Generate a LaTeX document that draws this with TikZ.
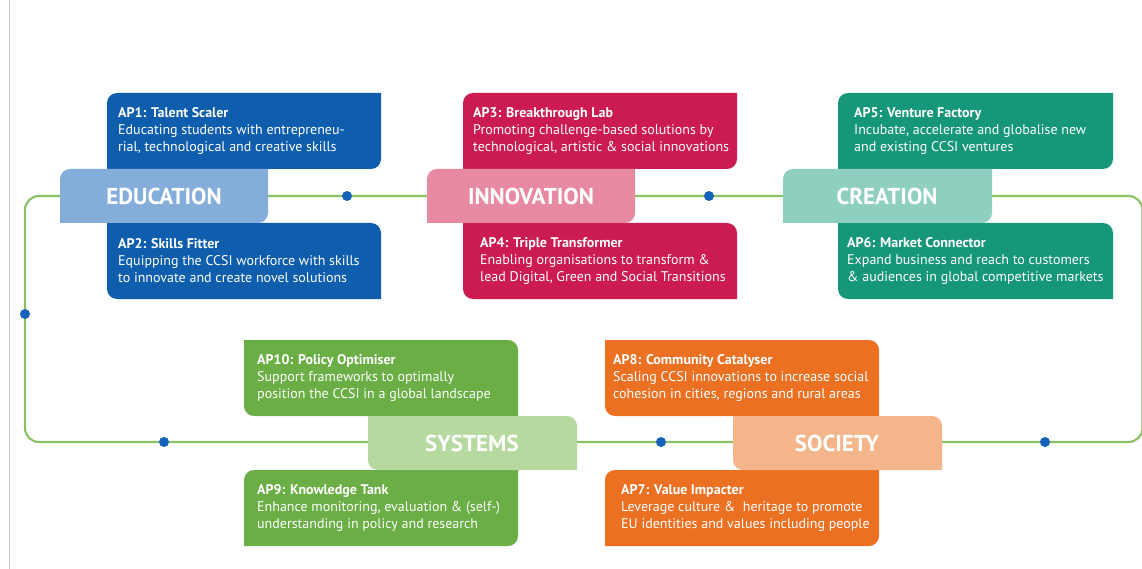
\documentclass[tikz,border=0pt]{standalone}
\usepackage{fontspec}
\setmainfont{PT Sans}
\definecolor{eduD}{HTML}{0F5EAD}
\definecolor{eduL}{HTML}{84AED9}
\definecolor{innD}{HTML}{CB1B50}
\definecolor{innL}{HTML}{E78AA1}
\definecolor{creD}{HTML}{17977A}
\definecolor{creL}{HTML}{8FCFBF}
\definecolor{sysD}{HTML}{6BAE46}
\definecolor{sysL}{HTML}{B6D99F}
\definecolor{socD}{HTML}{EC7022}
\definecolor{socL}{HTML}{F4B58B}
\definecolor{loopG}{HTML}{8BC165}
\definecolor{dotB}{HTML}{1462BA}
\tikzset{
  rc/.style={rounded corners=10pt},
  sc/.style={sharp corners},
  aptext/.style={anchor=west, align=left, inner sep=0pt, text=white,
    font=\fontsize{14}{17}\selectfont},
  lbltext/.style={inner sep=0pt, text=white, font=\fontsize{23}{26}\selectfont\bfseries},
  dotnode/.style={circle, fill=dotB, inner sep=0pt, minimum size=10pt},
  loopline/.style={draw=loopG, line width=2.1pt},
}
\newcommand\shapebox[9]{%
  \fill[#1] (#2,{(#3+#5)/2}) [#6] -- (#2,#3) -- ({(#2+#4)/2},#3)
    [#7] -- (#4,#3) -- (#4,{(#3+#5)/2})
    [#8] -- (#4,#5) -- ({(#2+#4)/2},#5)
    [#9] -- (#2,#5) -- (#2,{(#3+#5)/2}) -- cycle;}
\begin{document}
\begin{tikzpicture}[x=1pt,y=-1pt]
\useasboundingbox (0,0) rectangle (1142,569);
\fill[white] (0,0) rectangle (1142,569);
\draw[black!22, line width=0.8pt] (9.5,0) -- (9.5,569);

% loop
\coordinate (lmid) at (25,314);
\coordinate (ltop) at (25,196);
\coordinate (rtop) at (1142.5,196);
\coordinate (rbot) at (1142.5,442);
\coordinate (lbot) at (25,442);
\draw[loopline, rounded corners=14pt] (lmid) -- (ltop) -- (rtop) -- (rbot) -- (lbot) -- cycle;

% ---------- top row ----------
\shapebox{eduD}{107}{93}{381}{169}{rc}{sc}{rc}{sc}
\shapebox{eduD}{107}{223}{381}{299}{sc}{rc}{sc}{rc}
\shapebox{eduL}{60}{169}{268}{223}{rc}{sc}{rc}{sc}
\shapebox{innD}{463}{93}{737}{169}{rc}{sc}{rc}{sc}
\shapebox{innD}{463}{223}{737}{299}{sc}{rc}{sc}{rc}
\shapebox{innL}{427}{169}{635}{223}{rc}{sc}{rc}{sc}
\shapebox{creD}{838}{93}{1113}{169}{rc}{sc}{rc}{sc}
\shapebox{creD}{838}{223}{1113}{299}{sc}{rc}{sc}{rc}
\shapebox{creL}{783}{169}{992}{223}{rc}{sc}{rc}{sc}

% ---------- bottom row ----------
\shapebox{sysD}{244}{340}{518}{416}{sc}{rc}{sc}{rc}
\shapebox{sysD}{244}{470}{518}{546}{rc}{sc}{rc}{sc}
\shapebox{sysL}{368}{416}{577}{470}{sc}{rc}{sc}{rc}
\shapebox{socD}{605}{340}{879}{416}{sc}{rc}{sc}{rc}
\shapebox{socD}{605}{470}{879}{546}{rc}{sc}{rc}{sc}
\shapebox{socL}{733}{416}{942}{470}{sc}{rc}{sc}{rc}

% labels
\node[lbltext] (edu) at (164,196) {EDUCATION};
\node[lbltext] (inn) at (531,196) {INNOVATION};
\node[lbltext] (cre) at (887,196) {CREATION};
\node[lbltext] (sys) at (472,443) {SYSTEMS};
\node[lbltext] (soc) at (837,443) {SOCIETY};

% dots
\node[dotnode] (d1) at (347,196) {};
\node[dotnode] (d2) at (709,196) {};
\node[dotnode] (d3) at (25,314) {};
\node[dotnode] (d4) at (164,442) {};
\node[dotnode] (d5) at (661,442) {};
\node[dotnode] (d6) at (1045,442) {};

% AP texts
\node[aptext] (ap1) at (118,131) {\textbf{AP1: Talent Scaler}\\Educating students with entrepreneu-\\rial, technological and creative skills};
\node[aptext] (ap2) at (118,261) {\textbf{AP2: Skills Fitter}\\Equipping the CCSI workforce with skills\\to innovate and create novel solutions};
\node[aptext] (ap3) at (473,131) {\textbf{AP3: Breakthrough Lab}\\Promoting challenge-based solutions by\\technological, artistic \& social innovations};
\node[aptext] (ap4) at (480,261) {\textbf{AP4: Triple Transformer}\\Enabling organisations to transform \&\\lead Digital, Green and Social Transitions};
\node[aptext] (ap5) at (854,131) {\textbf{AP5: Venture Factory}\\Incubate, accelerate and globalise new\\and existing CCSI ventures};
\node[aptext] (ap6) at (847,261) {\textbf{AP6: Market Connector}\\Expand business and reach to customers\\\& audiences in global competitive markets};
\node[aptext] (ap10) at (257,378) {\textbf{AP10: Policy Optimiser}\\Support frameworks to optimally\\position the CCSI in a global landscape};
\node[aptext] (ap9) at (257,508) {\textbf{AP9: Knowledge Tank}\\Enhance monitoring, evaluation \& (self-)\\understanding in policy and research};
\node[aptext] (ap8) at (613,378) {\textbf{AP8: Community Catalyser}\\Scaling CCSI innovations to increase social\\cohesion in cities, regions and rural areas};
\node[aptext] (ap7) at (621,508) {\textbf{AP7: Value Impacter}\\Leverage culture \& ~heritage to promote\\EU identities and values including people};
\end{tikzpicture}
\end{document}
